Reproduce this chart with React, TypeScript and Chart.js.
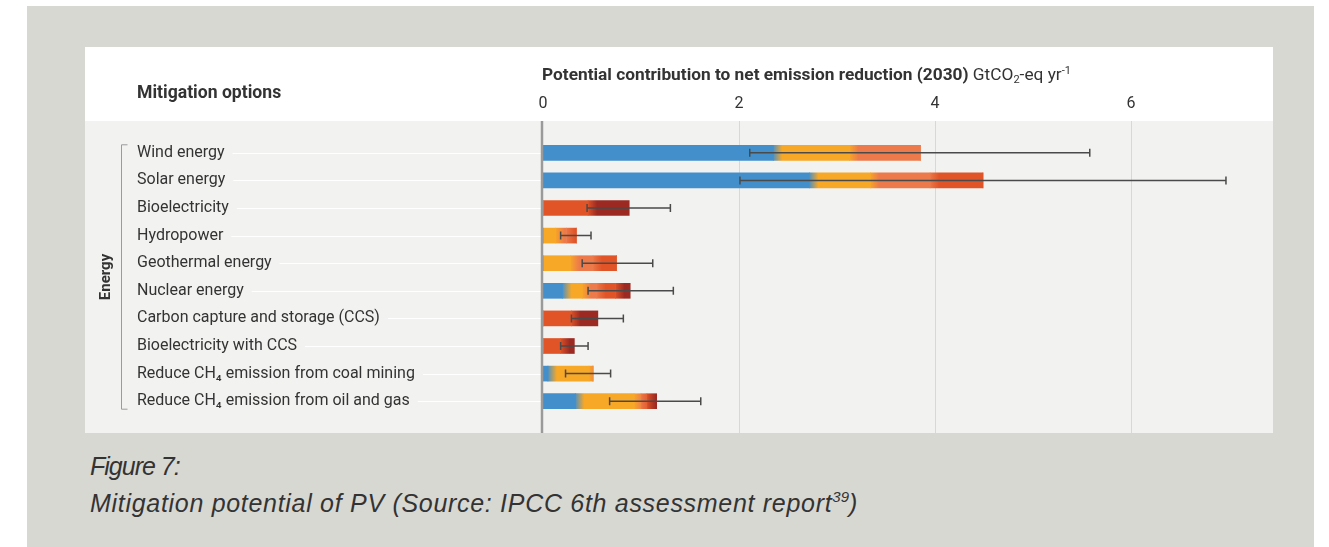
import React, { useEffect, useRef } from "react";
import { Chart, registerables } from "chart.js";

Chart.register(...registerables);

const categories = [
  "Wind energy",
  "Solar energy",
  "Bioelectricity",
  "Hydropower",
  "Geothermal energy",
  "Nuclear energy",
  "Carbon capture and storage (CCS)",
  "Bioelectricity with CCS",
  "Reduce CH\u2084 emission from coal mining",
  "Reduce CH\u2084 emission from oil and gas",
];

// stacked cost-category segments (GtCO2-eq/yr)
const costBelow0 = [2.35, 2.72, 0, 0, 0, 0.2, 0, 0, 0.05, 0.33];
const cost0to20 = [0.78, 0.62, 0, 0.13, 0.28, 0.2, 0, 0, 0.42, 0.6];
const cost20to50 = [0.72, 0.61, 0, 0.11, 0.23, 0.15, 0, 0, 0.04, 0.07];
const cost50to100 = [0, 0.54, 0.46, 0.1, 0.24, 0.19, 0.29, 0.18, 0, 0.06];
const cost100to200 = [0, 0, 0.42, 0, 0, 0.15, 0.27, 0.14, 0, 0.1];

// uncertainty ranges
const rangeLow = [2.11, 2.01, 0.45, 0.18, 0.4, 0.46, 0.29, 0.18, 0.23, 0.68];
const rangeHigh = [5.58, 6.97, 1.3, 0.49, 1.12, 1.33, 0.82, 0.46, 0.69, 1.61];

const xTicks = [0, 2, 4, 6];
const xMax = 7.45;
const groupLabel = "Energy";

const segmentColors = ["#428fcc", "#f8a827", "#ec7a4a", "#e05428", "#9c2a22"];
const segmentNames = ["<0", "0-20", "20-50", "50-100", "100-200"];

const PLOT_TOP = 74;
const LABEL_FONT = "16px Roboto";
const BLEND = 9;

const series = [costBelow0, cost0to20, cost20to50, cost50to100, cost100to200];

function segmentFill(k: number) {
  return (ctx: any) => {
    const chart = ctx.chart;
    const i = ctx.dataIndex;
    const x = chart.scales && chart.scales.x;
    if (!chart.chartArea || !x || i === undefined) return segmentColors[k];
    let prev = -1;
    let start = 0;
    for (let j = 0; j < k; j++) {
      start += series[j][i];
      if (series[j][i] > 0) prev = j;
    }
    if (prev < 0) return segmentColors[k];
    const p0 = x.getPixelForValue(start);
    const g = chart.ctx.createLinearGradient(p0 - 1, 0, p0 + BLEND, 0);
    g.addColorStop(0, segmentColors[prev]);
    g.addColorStop(1, segmentColors[k]);
    return g;
  };
}

const decorPlugin = {
  id: "decor",
  beforeDraw(chart: any) {
    const { ctx, width, height, chartArea } = chart;
    const x = chart.scales.x;
    const y = chart.scales.y;
    ctx.save();
    ctx.fillStyle = "#f2f2f0";
    ctx.fillRect(0, PLOT_TOP, width, height - PLOT_TOP);

    // vertical grid lines
    ctx.strokeStyle = "#d8d8d6";
    ctx.lineWidth = 1;
    x.ticks.forEach((t: any) => {
      if (t.value === 0) return;
      const px = Math.round(x.getPixelForValue(t.value)) + 0.5;
      ctx.beginPath();
      ctx.moveTo(px, PLOT_TOP);
      ctx.lineTo(px, height);
      ctx.stroke();
    });

    // white connector lines after labels
    ctx.font = LABEL_FONT;
    ctx.strokeStyle = "#ffffff";
    categories.forEach((c, i) => {
      const py = Math.round(y.getPixelForValue(i)) + 0.5;
      const w = ctx.measureText(c).width;
      ctx.beginPath();
      ctx.moveTo(y.left + w + 8, py);
      ctx.lineTo(chartArea.left - 2, py);
      ctx.stroke();
    });

    // bracket
    const top = y.getPixelForValue(0) - 8;
    const bottom = y.getPixelForValue(categories.length - 1) + 8;
    const bx = 36.5;
    ctx.strokeStyle = "#9b9b9b";
    ctx.lineWidth = 1;
    ctx.beginPath();
    ctx.moveTo(bx + 6, top);
    ctx.lineTo(bx, top);
    ctx.lineTo(bx, bottom);
    ctx.lineTo(bx + 6, bottom);
    ctx.stroke();

    // group label
    ctx.fillStyle = "#333333";
    ctx.font = "bold 15px Roboto";
    ctx.translate(21, (top + bottom) / 2);
    ctx.rotate(-Math.PI / 2);
    ctx.textAlign = "center";
    ctx.textBaseline = "middle";
    ctx.fillText(groupLabel, 0, 0);
    ctx.restore();
  },
  afterDatasetsDraw(chart: any) {
    const { ctx, height } = chart;
    const x = chart.scales.x;
    const y = chart.scales.y;
    ctx.save();
    // zero axis
    const x0 = x.getPixelForValue(0) - 1;
    ctx.strokeStyle = "#9a9a9a";
    ctx.lineWidth = 2.5;
    ctx.beginPath();
    ctx.moveTo(x0, PLOT_TOP);
    ctx.lineTo(x0, height);
    ctx.stroke();

    // error bars
    ctx.strokeStyle = "#4a4a4a";
    ctx.lineWidth = 1.5;
    categories.forEach((_, i) => {
      const py = y.getPixelForValue(i);
      const a = x.getPixelForValue(rangeLow[i]);
      const b = x.getPixelForValue(rangeHigh[i]);
      ctx.beginPath();
      ctx.moveTo(a, py);
      ctx.lineTo(b, py);
      ctx.moveTo(a, py - 4);
      ctx.lineTo(a, py + 4);
      ctx.moveTo(b, py - 4);
      ctx.lineTo(b, py + 4);
      ctx.stroke();
    });
    ctx.restore();
  },
};

export default function App() {
  const ref = useRef<HTMLCanvasElement | null>(null);

  useEffect(() => {
    if (!ref.current) return;
    const chart = new Chart(ref.current, {
      type: "bar",
      data: {
        labels: categories,
        datasets: series.map((d, k) => ({
          label: segmentNames[k],
          data: d,
          backgroundColor: segmentFill(k),
          borderWidth: 0,
          barThickness: 15,
        })),
      },
      options: {
        indexAxis: "y",
        animation: false,
        responsive: false,
        layout: { padding: { left: 52, right: 0, top: 0, bottom: 18 } },
        plugins: { legend: { display: false }, tooltip: { enabled: false } },
        scales: {
          x: {
            position: "top",
            stacked: true,
            min: 0,
            max: xMax,
            afterBuildTicks: (s: any) => {
              s.ticks = xTicks.map((v) => ({ value: v }));
            },
            afterFit: (s: any) => {
              s.height = 92;
            },
            grid: { display: false },
            border: { display: false },
            ticks: {
              padding: 17,
              color: "#333333",
              font: { family: "Roboto", size: 16 },
            },
          },
          y: {
            stacked: true,
            afterFit: (s: any) => {
              s.width = 406;
            },
            grid: { display: false },
            border: { display: false },
            ticks: {
              crossAlign: "far",
              padding: 0,
              color: "#333333",
              font: { family: "Roboto", size: 16 },
            },
          },
        },
      },
      plugins: [decorPlugin],
    } as any);
    return () => chart.destroy();
  }, []);

  return (
    <div style={{ position: "absolute", left: 0, top: 0, width: 1329, height: 547, background: "#ffffff", overflow: "hidden" }}>
      <div style={{ position: "absolute", left: 27, top: 6, width: 1287, height: 541, background: "#d8d8d3" }} />
      <div style={{ position: "absolute", left: 85, top: 47, width: 1188, height: 386, background: "#ffffff" }}>
        <canvas ref={ref} width={1188} height={386} style={{ display: "block", width: 1188, height: 386 }} />
      </div>
      <div
        style={{
          position: "absolute",
          left: 542,
          top: 64,
          fontFamily: "Roboto",
          fontSize: 17.3,
          lineHeight: "21px",
          color: "#333333",
          whiteSpace: "nowrap",
        }}
      >
        <span style={{ fontWeight: 700 }}>Potential contribution to net emission reduction (2030)</span>
        <span> GtCO</span>
        <span style={{ fontSize: 11, position: "relative", top: 3 }}>2</span>
        <span>-eq yr</span>
        <span style={{ fontSize: 11, position: "relative", top: -6 }}>-1</span>
      </div>
      <div
        style={{
          position: "absolute",
          left: 137,
          top: 81,
          fontFamily: "Roboto",
          fontSize: 17.6,
          fontWeight: 700,
          lineHeight: "22px",
          color: "#333333",
          whiteSpace: "nowrap",
        }}
      >
        Mitigation options
      </div>
      <div
        style={{
          position: "absolute",
          left: 90,
          top: 448,
          fontFamily: "'Liberation Sans', Arial, sans-serif",
          fontStyle: "italic",
          fontSize: 25,
          lineHeight: "37px",
          color: "#333333",
          whiteSpace: "nowrap",
        }}
      >
        <div style={{ letterSpacing: -1 }}>Figure 7:</div>
        <div style={{ letterSpacing: 0.7 }}>
          Mitigation potential of PV (Source: IPCC 6th assessment report
          <span style={{ fontSize: 15, position: "relative", top: -10, letterSpacing: 0 }}>39</span>)
        </div>
      </div>
    </div>
  );
}
